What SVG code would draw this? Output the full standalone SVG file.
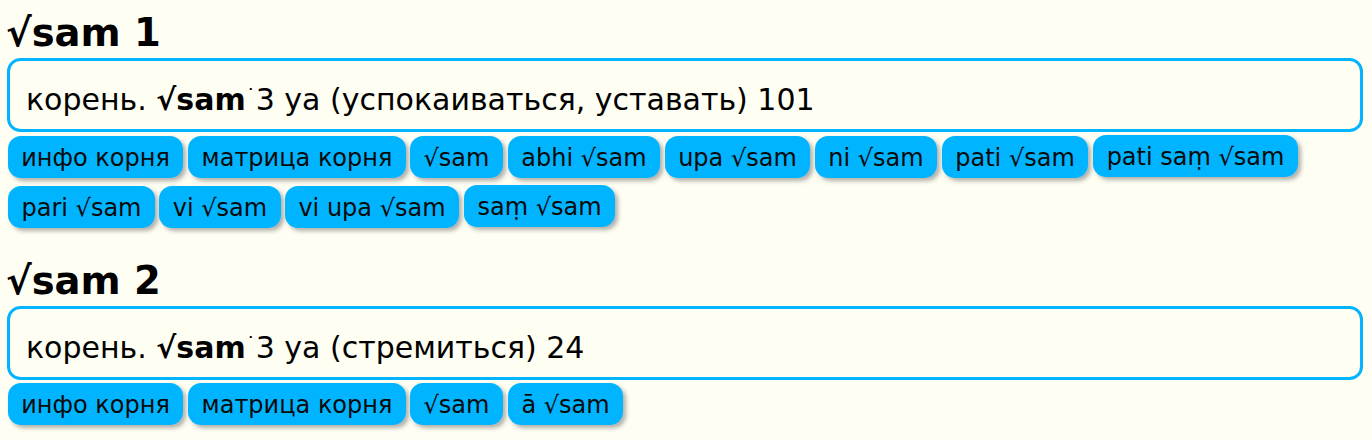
<svg xmlns="http://www.w3.org/2000/svg" width="1372" height="440" viewBox="0 0 1372 440">
<defs>
<filter id="sh" x="-10%" y="-20%" width="120%" height="160%">
<feDropShadow dx="3" dy="3" stdDeviation="2" flood-color="#555" flood-opacity="0.45"/>
</filter>
</defs>
<style>
text{font-family:"DejaVu Sans","Noto Sans",sans-serif;fill:#000}
.title{font-size:38.5px;font-weight:bold}
.box{fill:#fefef2;stroke:#00b4ff;stroke-width:3}
.bt{font-size:30px}
.b{font-weight:bold}
.d{font-size:20px}
.pill rect{fill:#00b4ff;filter:url(#sh)}
.pill text{font-size:24px;text-anchor:middle;fill:#0a0a0a}
</style>
<rect width="1372" height="440" fill="#fefef3"/>

<g id="section1">
<text class="title" x="6" y="46">√sam 1</text>
<g id="root1">
<rect class="box" x="8.5" y="59.5" width="1353" height="71" rx="12"/>
<text class="bt" x="26" y="110">корень. <tspan class="b">√sam</tspan><tspan class="d" dy="-7">˙</tspan><tspan dy="7">3 ya (успокаиваться, уставать) 101</tspan></text>
</g>
<g id="p1-info" class="pill"><rect x="8" y="136" width="175" height="42" rx="13"/><text x="95.5" y="166">инфо корня</text></g>
<g id="p1-matrix" class="pill"><rect x="188" y="136" width="218" height="42" rx="13"/><text x="297" y="166">матрица корня</text></g>
<g id="p1-sam" class="pill"><rect x="410" y="136" width="93" height="42" rx="13"/><text x="456.5" y="166">√sam</text></g>
<g id="p1-abhi" class="pill"><rect x="508" y="136" width="152" height="42" rx="13"/><text x="584" y="166">abhi √sam</text></g>
<g id="p1-upa" class="pill"><rect x="665" y="136" width="145" height="42" rx="13"/><text x="737.5" y="166">upa √sam</text></g>
<g id="p1-ni" class="pill"><rect x="815" y="136" width="122" height="42" rx="13"/><text x="876" y="166">ni √sam</text></g>
<g id="p1-pati" class="pill"><rect x="942" y="136" width="146" height="42" rx="13"/><text x="1015" y="166">pati √sam</text></g>
<g id="p1-patisam" class="pill"><rect x="1093" y="135" width="205" height="42" rx="13"/><text x="1195.5" y="165">pati saṃ √sam</text></g>
<g id="p1-pari" class="pill"><rect x="8" y="186" width="147" height="42" rx="13"/><text x="81.5" y="216">pari √sam</text></g>
<g id="p1-vi" class="pill"><rect x="159" y="186" width="122" height="42" rx="13"/><text x="220" y="216">vi √sam</text></g>
<g id="p1-viupa" class="pill"><rect x="285" y="186" width="174" height="42" rx="13"/><text x="372" y="216">vi upa √sam</text></g>
<g id="p1-sam2" class="pill"><rect x="464" y="185" width="151" height="42" rx="13"/><text x="539.5" y="215">saṃ √sam</text></g>
</g>

<g id="section2">
<text class="title" x="6" y="294">√sam 2</text>
<g id="root2">
<rect class="box" x="8.5" y="307.5" width="1353" height="71" rx="12"/>
<text class="bt" x="26" y="358">корень. <tspan class="b">√sam</tspan><tspan class="d" dy="-7">˙</tspan><tspan dy="7">3 ya (стремиться) 24</tspan></text>
</g>
<g id="p2-info" class="pill"><rect x="8" y="383" width="175" height="42" rx="13"/><text x="95.5" y="413">инфо корня</text></g>
<g id="p2-matrix" class="pill"><rect x="188" y="383" width="218" height="42" rx="13"/><text x="297" y="413">матрица корня</text></g>
<g id="p2-sam" class="pill"><rect x="410" y="383" width="93" height="42" rx="13"/><text x="456.5" y="413">√sam</text></g>
<g id="p2-a" class="pill"><rect x="508" y="383" width="115" height="42" rx="13"/><text x="565.5" y="413">ā √sam</text></g>
</g>

<g id="connectors"></g>
</svg>
